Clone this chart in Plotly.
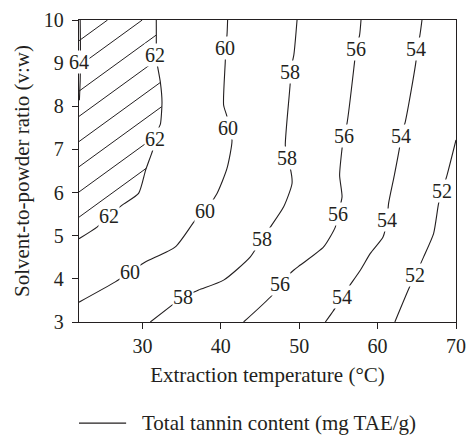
import numpy as np
import plotly.graph_objects as go

# ---------------- data ----------------
levels = [64, 62, 60, 58, 56, 54, 52]

x64 = [22.05, 22.08, 22.08, 22.05, 21.95]
y64 = [10.0, 9.5, 9.0, 8.6, 8.14]

x62 = [21.9, 24.2, 25.7, 27.4, 29.5, 30.4, 31.3, 31.65, 32.06, 32.3, 32.49, 32.27, 31.85, 31.7, 31.76, 31.76]
y62 = [4.93, 5.20, 5.45, 5.71, 5.98, 6.52, 6.98, 7.24, 7.49, 7.60, 8.10, 8.57, 9.00, 9.20, 9.42, 10.0]

x60 = [40.86, 40.78, 40.57, 40.57, 40.35, 40.78, 40.91, 41.42, 40.78, 39.51, 38.01, 36.74, 34.19, 30.36, 28.45, 26.53, 21.9]
y60 = [10.0, 9.65, 9.34, 9.07, 8.03, 7.76, 7.49, 7.22, 6.56, 5.98, 5.58, 5.36, 4.74, 4.39, 4.16, 3.93, 3.46]

x58 = [49.72, 49.31, 48.86, 48.86, 48.22, 48.44, 48.86, 49.08, 48.01, 46.31, 45.25, 43.76, 40.35, 37.16, 35.12, 33.77, 31.0]
y58 = [10.0, 9.19, 8.80, 8.57, 7.10, 6.79, 6.56, 6.21, 5.67, 5.20, 4.93, 4.51, 3.97, 3.74, 3.58, 3.39, 3.0]

x56 = [57.88, 57.70, 57.24, 57.06, 56.09, 55.66, 55.46, 55.15, 55.46, 54.95, 54.60, 53.11, 50.14, 49.28, 47.50, 46.53, 42.90]
y56 = [10.0, 9.65, 9.32, 9.03, 7.60, 7.32, 7.02, 6.40, 5.90, 5.50, 5.20, 4.74, 4.32, 4.20, 3.89, 3.62, 3.0]

x54 = [65.66, 65.36, 64.94, 64.94, 63.53, 62.98, 62.81, 62.13, 61.40, 61.20, 60.69, 59.07, 57.79, 56.30, 55.46, 54.39, 53.33]
y54 = [10.0, 9.61, 9.32, 9.11, 7.64, 7.32, 7.06, 6.40, 5.75, 5.36, 4.97, 4.59, 4.20, 3.81, 3.58, 3.27, 3.0]

x52 = [70.0, 68.85, 68.22, 67.78, 67.14, 65.87, 64.81, 64.17, 62.2]
y52 = [7.22, 6.40, 6.03, 5.75, 5.05, 4.51, 4.08, 3.85, 3.0]

# contour-label positions (on the lines)
lab64_x = [21.95];                         lab64_y = [9.03]
lab62_x = [25.68, 31.64, 31.6];            lab62_y = [5.45, 7.24, 9.20]
lab60_x = [40.57, 40.91, 38.01, 28.45];    lab60_y = [9.34, 7.49, 5.58, 4.16]
lab58_x = [48.86, 48.44, 45.25, 35.12];    lab58_y = [8.80, 6.79, 4.93, 3.58]
lab56_x = [57.24, 55.66, 54.95, 47.50];    lab56_y = [9.32, 7.32, 5.50, 3.89]
lab54_x = [64.94, 62.98, 61.20, 55.46];    lab54_y = [9.32, 7.32, 5.36, 3.58]
lab52_x = [68.22, 64.81];                  lab52_y = [6.03, 4.08]

x_ticks = [30, 40, 50, 60, 70]
y_ticks = [3, 4, 5, 6, 7, 8, 9, 10]
x_range = [21.9, 70]
y_range = [3, 10]

series_name = "Total tannin content (mg TAE/g)"
x_title = "Extraction temperature (°C)"
y_title = "Solvent-to-powder ratio (v:w)"

# ---------------- figure ----------------
INK = "#231f20"
FONT = "Liberation Serif"
W, H = 469, 436
M = dict(l=79, r=13, t=20, b=114)

lines = {64: (x64, y64), 62: (x62, y62), 60: (x60, y60), 58: (x58, y58),
         56: (x56, y56), 54: (x54, y54), 52: (x52, y52)}
labs = {64: (lab64_x, lab64_y), 62: (lab62_x, lab62_y), 60: (lab60_x, lab60_y),
        58: (lab58_x, lab58_y), 56: (lab56_x, lab56_y), 54: (lab54_x, lab54_y),
        52: (lab52_x, lab52_y)}

fig = go.Figure()

# ---- hatching of the region beyond the 62 contour (top-left corner) ----
px_per_x = (W - M["l"] - M["r"]) / (x_range[1] - x_range[0])
px_per_y = (H - M["t"] - M["b"]) / (y_range[1] - y_range[0])
hatch_angle = np.deg2rad(36)
hatch_gap = 25.2 / px_per_y            # vertical spacing on the left edge
slope = np.tan(hatch_angle) * px_per_x / px_per_y
hatch_first = 5.43                     # first hatch line start on left edge
hx, hy = [], []
y0 = hatch_first
while y0 < y_range[1]:
    xs = np.linspace(x_range[0], 36, 4000)
    ys = y0 + slope * (xs - x_range[0])
    bound = np.interp(ys, y62, x62)
    inside = (xs <= bound) & (ys <= y_range[1])
    stop = np.argmin(inside) if not inside.all() else len(xs) - 1
    hx += [x_range[0], float(xs[max(stop - 1, 0)]), None]
    hy += [y0, float(ys[max(stop - 1, 0)]), None]
    y0 += hatch_gap
fig.add_trace(go.Scatter(x=hx, y=hy, mode="lines",
                         line=dict(color=INK, width=1.0),
                         hoverinfo="skip", showlegend=False))

for lv in levels:
    xs, ys = lines[lv]
    fig.add_trace(go.Scatter(
        x=xs, y=ys, mode="lines", name=series_name,
        line=dict(color=INK, width=1.1, shape="spline", smoothing=0.6),
        showlegend=False))

annotations = []
for lv in levels:
    lx, ly = labs[lv]
    for a, b in zip(lx, ly):
        annotations.append(dict(
            x=a, y=b, xref="x", yref="y", text=str(lv), showarrow=False,
            font=dict(family=FONT, size=20, color=INK),
            bgcolor="white", borderpad=0, xanchor="center", yanchor="middle"))

# legend (line sample + text) below the axes
annotations.append(dict(
    x=0.162, y=-0.335, xref="paper", yref="paper", text=series_name,
    showarrow=False, xanchor="left", yanchor="middle",
    font=dict(family=FONT, size=21, color=INK)))

fig.update_layout(
    width=W, height=H,
    margin=M,
    paper_bgcolor="white", plot_bgcolor="white",
    font=dict(family=FONT, size=20, color=INK),
    showlegend=False,
    annotations=annotations,
    shapes=[dict(type="line", xref="paper", yref="paper",
                 x0=0.0, x1=0.125, y0=-0.335, y1=-0.335,
                 line=dict(color=INK, width=1.1))],
)

fig.update_xaxes(
    range=x_range, tickvals=x_ticks, showgrid=False, zeroline=False,
    showline=True, linecolor=INK, linewidth=1.3, mirror=True,
    ticks="outside", ticklen=6, tickwidth=1.2, tickcolor=INK,
    automargin=False,
    tickfont=dict(family=FONT, size=20, color=INK),
    title=dict(text=x_title, font=dict(family=FONT, size=21, color=INK), standoff=11))

fig.update_yaxes(
    range=y_range, tickvals=y_ticks, showgrid=False, zeroline=False,
    showline=True, linecolor=INK, linewidth=1.3, mirror=True,
    ticks="outside", ticklen=6, tickwidth=1.2, tickcolor=INK,
    ticklabelstandoff=4, automargin=False,
    tickfont=dict(family=FONT, size=20, color=INK),
    title=dict(text=y_title, font=dict(family=FONT, size=21, color=INK), standoff=8))

fig.write_html("out.html")
